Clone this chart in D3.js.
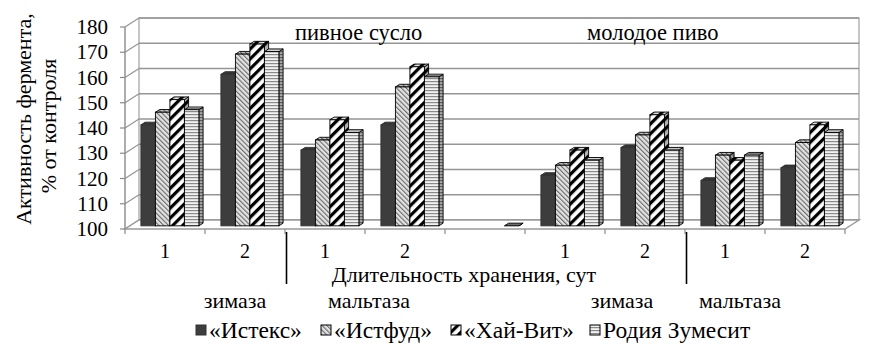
<!DOCTYPE html>
<html>
<head>
<meta charset="utf-8">
<script src="https://cdn.jsdelivr.net/npm/d3@7"></script>
<style>
  body { margin: 0; background: #fff; }
  svg { display: block; }
  svg text { font-family: 'Liberation Serif', 'Times New Roman', 'DejaVu Serif', serif; fill: #000; }
</style>
</head>
<body>
<div id="chart"></div>
<script>
// categories along the floor (5th one is an empty gap)
const categories = ["1", "2", "1", "2", "", "1", "2", "1", "2"];
const series = ["«Истекс»", "«Истфуд»", "«Хай-Вит»", "Родия Зумесит"];
const istex  = [140, 160, 130, 140, null, 120, 131, 118, 123];
const istfud = [145, 168, 134, 155, null, 124, 136, 128, 133];
const haiVit = [150, 172, 142, 163, null, 130, 144, 126, 140];
const rodia  = [146, 169, 137, 159, 100, 126, 130, 128, 137];
const valueTicks = [100, 110, 120, 130, 140, 150, 160, 170, 180];
const yTitle = ["Активность фермента,", "% от контроля"];
const xTitle = "Длительность хранения, сут";
const topLabels = ["пивное сусло", "молодое пиво"];
const enzymeLabels = ["зимаза", "мальтаза", "зимаза", "мальтаза"];

const FONT = "'Liberation Serif', 'Times New Roman', serif";

function init() {
  const width = 887, height = 355;
  const depth = { dx: 14, dy: -9 };
  const fa = 0.35, fb = 0.65; // bar front / back depth fractions

  const values = [istex, istfud, haiVit, rodia];

  const yF = d3.scaleLinear().domain([100, 180]).range([229, 27]);
  const yB = v => yF(v) + depth.dy;
  const x0 = d3.scaleBand().domain(d3.range(categories.length)).range([125, 845]);
  const x1 = d3.scaleBand().domain(d3.range(series.length)).range([11, 69]);
  const xL = x0.range()[0], xR = x0.range()[1];

  const svg = d3.select("#chart").append("svg")
    .attr("width", width).attr("height", height)
    .attr("font-family", FONT);

  const defs = svg.append("defs");
  // fine "\" hatch, light gray
  const p1 = defs.append("pattern").attr("id", "pLight")
    .attr("patternUnits", "userSpaceOnUse").attr("width", 3.4).attr("height", 3.4)
    .attr("patternTransform", "rotate(-45)");
  p1.append("rect").attr("width", 3.4).attr("height", 3.4).attr("fill", "#e2e2e2");
  p1.append("rect").attr("width", 1.1).attr("height", 3.4).attr("fill", "#6a6a6a");
  // bold "/" stripes
  const p2 = defs.append("pattern").attr("id", "pBold")
    .attr("patternUnits", "userSpaceOnUse").attr("width", 7).attr("height", 7)
    .attr("patternTransform", "rotate(45)");
  p2.append("rect").attr("width", 7).attr("height", 7).attr("fill", "#fff");
  p2.append("rect").attr("width", 3.2).attr("height", 7).attr("fill", "#000");
  // horizontal lines
  const p3 = defs.append("pattern").attr("id", "pHoriz")
    .attr("patternUnits", "userSpaceOnUse").attr("width", 4).attr("height", 3);
  p3.append("rect").attr("width", 4).attr("height", 3).attr("fill", "#f2f2f2");
  p3.append("rect").attr("width", 4).attr("height", 1.2).attr("fill", "#8a8a8a");

  const fills = ["#3d3d3d", "url(#pLight)", "url(#pBold)", "url(#pHoriz)"];
  const strokes = ["#333", "#000", "#000", "#000"];

  // back wall
  const g = svg.append("g");
  g.append("rect")
    .attr("x", xL + depth.dx).attr("y", yB(180))
    .attr("width", xR - xL).attr("height", yB(100) - yB(180))
    .attr("fill", "#fff").attr("stroke", "#a0a0a0").attr("stroke-width", 1.2);

  // gridlines on back wall and side wall
  g.selectAll(".grid").data(valueTicks).enter().append("line")
    .attr("x1", xL + depth.dx).attr("x2", xR + depth.dx)
    .attr("y1", d => yB(d)).attr("y2", d => yB(d))
    .attr("stroke", "#959595").attr("stroke-width", 1.6);
  g.selectAll(".sgrid").data(valueTicks).enter().append("line")
    .attr("x1", xL).attr("x2", xL + depth.dx)
    .attr("y1", d => yF(d)).attr("y2", d => yB(d))
    .attr("stroke", "#959595").attr("stroke-width", 1.2);

  // floor
  g.append("path")
    .attr("d", `M${xL},${yF(100)}L${xR},${yF(100)}L${xR + depth.dx},${yB(100)}L${xL + depth.dx},${yB(100)}Z`)
    .attr("fill", "#fff").attr("stroke", "#9a9a9a").attr("stroke-width", 1.4);

  // value axis
  g.append("line").attr("x1", xL).attr("x2", xL)
    .attr("y1", yF(100)).attr("y2", yF(180))
    .attr("stroke", "#8a8a8a").attr("stroke-width", 1.4);
  g.selectAll(".ytick").data(valueTicks).enter().append("line")
    .attr("x1", xL - 5).attr("x2", xL)
    .attr("y1", d => yF(d)).attr("y2", d => yF(d))
    .attr("stroke", "#8a8a8a").attr("stroke-width", 1.2);
  g.selectAll(".ylab").data(valueTicks).enter().append("text")
    .attr("x", 108).attr("y", d => yF(d))
    .attr("text-anchor", "end").attr("dominant-baseline", "central")
    .attr("font-family", FONT).attr("font-size", 21).text(d => d);

  // category ticks on floor front edge
  const bounds = d3.range(categories.length + 1).map(i => xL + i * x0.bandwidth());
  g.selectAll(".xtick").data(bounds).enter().append("line")
    .attr("x1", d => d).attr("x2", d => d)
    .attr("y1", yF(100)).attr("y2", yF(100) + 5)
    .attr("stroke", "#8a8a8a").attr("stroke-width", 1.2);

  // bars
  const fdx = fa * depth.dx, fdy = fa * depth.dy;
  const bdx = (fb - fa) * depth.dx, bdy = (fb - fa) * depth.dy;
  const w = x1.bandwidth();
  const bars = [];
  categories.forEach((c, i) => {
    series.forEach((s, j) => {
      const v = values[j][i];
      if (v == null) return;
      bars.push({ i, j, v });
    });
  });
  const barG = svg.append("g");
  bars.forEach(d => {
    const x = x0(d.i) + x1(d.j) + fdx;
    const yb = yF(100) + fdy;
    const yt = yF(d.v) + fdy;
    const sw = 0.9;
    // side face
    const side = `M${x + w},${yt}L${x + w + bdx},${yt + bdy}L${x + w + bdx},${yb + bdy}L${x + w},${yb}Z`;
    barG.append("path").attr("d", side).attr("fill", fills[d.j])
      .attr("stroke", strokes[d.j]).attr("stroke-width", sw);
    barG.append("path").attr("d", side).attr("fill", "rgba(0,0,0,0.3)");
    // top face
    const top = `M${x},${yt}L${x + w},${yt}L${x + w + bdx},${yt + bdy}L${x + bdx},${yt + bdy}Z`;
    barG.append("path").attr("d", top).attr("fill", fills[d.j])
      .attr("stroke", strokes[d.j]).attr("stroke-width", sw);
    barG.append("path").attr("d", top).attr("fill", d.v === 100 ? "rgba(0,0,0,0.55)" : "rgba(0,0,0,0.12)");
    // front face
    if (yb - yt > 0) {
      barG.append("rect").attr("x", x).attr("y", yt)
        .attr("width", w).attr("height", yb - yt)
        .attr("fill", fills[d.j]).attr("stroke", strokes[d.j]).attr("stroke-width", sw);
    }
  });

  // category labels
  svg.selectAll(".xlab").data(categories).enter().append("text")
    .attr("x", (d, i) => x0(i) + x0.bandwidth() / 2).attr("y", 251)
    .attr("text-anchor", "middle").attr("dominant-baseline", "central")
    .attr("font-family", FONT).attr("font-size", 20).text(d => d);

  // group separators (between enzymes)
  [2, 7].forEach(i => {
    svg.append("line").attr("x1", x0(i) + 1.5).attr("x2", x0(i) + 1.5)
      .attr("y1", 232).attr("y2", 284)
      .attr("stroke", "#000").attr("stroke-width", 1.6);
  });

  // axis title
  svg.append("text").attr("x", 464).attr("y", 274)
    .attr("text-anchor", "middle").attr("dominant-baseline", "central")
    .attr("font-family", FONT).attr("font-size", 22).text(xTitle);

  // enzyme labels
  const enzX = [x0(1) + 30, x0(2) + 84, x0(6) + 17, x0(7) + 55];
  svg.selectAll(".enz").data(enzymeLabels).enter().append("text")
    .attr("x", (d, i) => enzX[i]).attr("y", 300)
    .attr("text-anchor", "middle").attr("dominant-baseline", "central")
    .attr("font-family", FONT).attr("font-size", 22).text(d => d);

  // labels inside plot
  const topX = [x0(2) + 10, x0(5) + 62];
  svg.selectAll(".tl").data(topLabels).enter().append("text")
    .attr("x", (d, i) => topX[i]).attr("y", 32)
    .attr("dominant-baseline", "central")
    .attr("font-family", FONT).attr("font-size", 22.5).text(d => d);

  // y title
  const yTX = [23, 48], yTY = [119, 126];
  svg.selectAll(".yt").data(yTitle).enter().append("text")
    .attr("transform", (d, i) => `translate(${yTX[i]},${yTY[i]}) rotate(-90)`)
    .attr("text-anchor", "middle").attr("dominant-baseline", "central")
    .attr("font-family", FONT).attr("font-size", 22).text(d => d);

  // legend
  const legX = [196, 321, 451, 590];
  const leg = svg.selectAll(".leg").data(series).enter().append("g")
    .attr("transform", (d, i) => `translate(${legX[i]},330)`);
  leg.append("rect").attr("x", 0).attr("y", -5).attr("width", 10).attr("height", 10)
    .attr("fill", (d, i) => fills[i]).attr("stroke", (d, i) => strokes[i]).attr("stroke-width", 1);
  leg.append("text").attr("x", 13).attr("y", 0)
    .attr("dominant-baseline", "central")
    .attr("font-family", FONT).attr("font-size", 23.5).text(d => d);
}

window.onload = init;
</script>
</body>
</html>
